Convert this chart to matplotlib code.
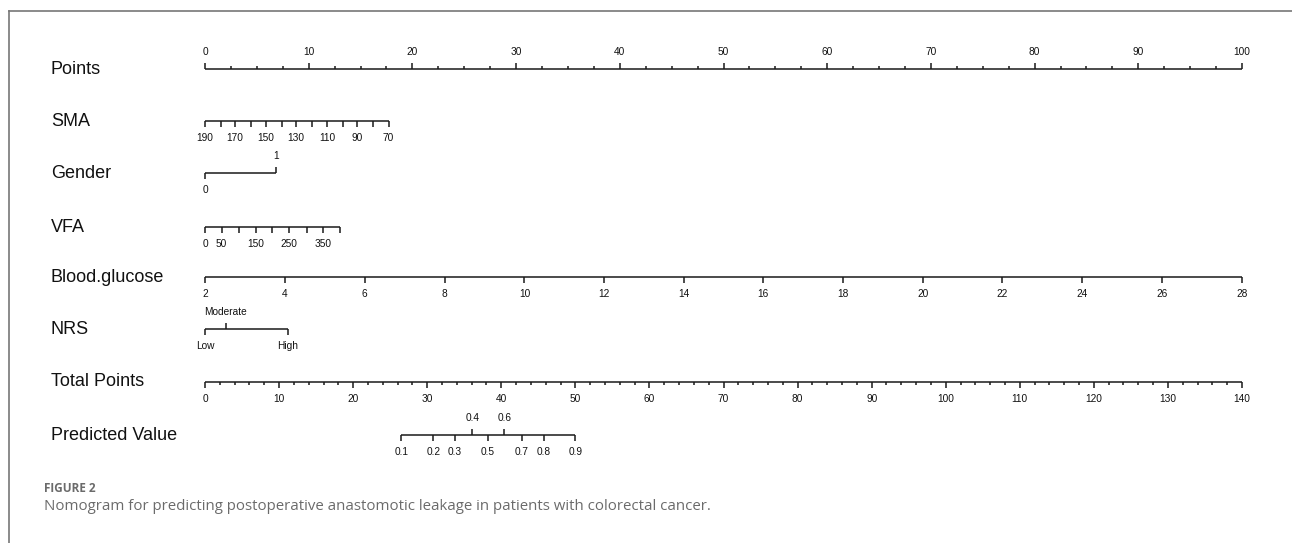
import numpy as np
import matplotlib.pyplot as plt

# nomogram rows, values
# each variable: values and their position on the Points (0-100) scale
sma_values = [190, 180, 170, 160, 150, 140, 130, 120, 110, 100, 90, 80, 70]
sma_points = [0, 1.5, 2.9, 4.4, 5.9, 7.4, 8.8, 10.3, 11.8, 13.3, 14.7, 16.2, 17.7]
sma_labels = ["190", "", "170", "", "150", "", "130", "", "110", "", "90", "", "70"]

gender_values = ["0", "1"]
gender_points = [0, 6.85]

vfa_values = [0, 50, 100, 150, 200, 250, 300, 350, 400]
vfa_points = [0, 1.6, 3.3, 4.9, 6.5, 8.1, 9.8, 11.4, 13.0]
vfa_labels = ["0", "50", "", "150", "", "250", "", "350", ""]

glucose_values = [2, 4, 6, 8, 10, 12, 14, 16, 18, 20, 22, 24, 26, 28]
glucose_points = [0, 7.7, 15.4, 23.1, 30.8, 38.5, 46.2, 53.8, 61.5, 69.2, 76.9, 84.6, 92.3, 100]

nrs_values = ["Low", "Moderate", "High"]
nrs_points = [0, 2.0, 8.0]

# predicted probability and its position on the Total Points (0-140) scale
pred_values = ["0.1", "0.2", "0.3", "0.4", "0.5", "0.6", "0.7", "0.8", "0.9"]
pred_total = [26.5, 30.8, 33.7, 36.1, 38.2, 40.4, 42.8, 45.7, 50.0]

row_names = ["Points", "SMA", "Gender", "VFA", "Blood.glucose", "NRS",
             "Total Points", "Predicted Value"]
row_y = [69, 121, 173, 227, 277, 329, 382, 435]

X0 = 205.0      # pixel x of 0 points
PX = 10.37      # pixels per point
TOTAL_MAX = 140.0

LC = "#1a1a1a"
LW = 1.1
FS_TICK = 7.3
FONT = "Liberation Sans"


def px(xpix):
    return (xpix - X0) / PX


fig = plt.figure(figsize=(12.92, 5.43), dpi=100)
ax = fig.add_axes([0, 0, 1, 1])
ax.set_xlim(px(0), px(1292))
ax.set_ylim(543, 0)
ax.axis("off")


def scale(y, pos, labels, up=None, minor=None, tick=6, minor_tick=3):
    if up is None:
        up = [False] * len(pos)
    ax.plot([min(pos), max(pos)], [y, y], color=LC, lw=LW, solid_capstyle="butt")
    for p, lab, u in zip(pos, labels, up):
        d = -tick if u else tick
        ax.plot([p, p], [y, y + d], color=LC, lw=LW, solid_capstyle="butt")
        if lab != "":
            ty = y - 17 if u else y + 17
            ax.text(p, ty, lab, ha="center", va="center", fontsize=FS_TICK,
                    family=FONT, color="#111111")
    if minor is not None:
        for p in minor:
            ax.plot([p, p], [y, y + minor_tick], color=LC, lw=LW, solid_capstyle="butt")


# row labels
for name, y in zip(row_names, row_y):
    ax.text(px(51), y, name, ha="left", va="center", fontsize=13,
            family=FONT, color="#111111")

# Points axis (ticks and labels above)
pts_major = np.arange(0, 101, 10)
pts_minor = [v for v in np.arange(0, 100.1, 2.5) if v % 10 != 0]
y = row_y[0]
ax.plot([0, 100], [y, y], color=LC, lw=LW, solid_capstyle="butt")
for p in pts_major:
    ax.plot([p, p], [y, y - 6], color=LC, lw=LW, solid_capstyle="butt")
    ax.text(p, y - 17, str(p), ha="center", va="center", fontsize=FS_TICK,
            family=FONT, color="#111111")
for p in pts_minor:
    ax.plot([p, p], [y, y - 3], color=LC, lw=LW, solid_capstyle="butt")

scale(row_y[1], sma_points, sma_labels)
scale(row_y[2], gender_points, gender_values, up=[False, True])
scale(row_y[3], vfa_points, vfa_labels)
scale(row_y[4], glucose_points, [str(v) for v in glucose_values])
scale(row_y[5], nrs_points, nrs_values, up=[False, True, False])

# Total Points axis
tot_major = np.arange(0, 141, 10)
tot_minor = [v for v in np.arange(0, 141, 2) if v % 10 != 0]
scale(row_y[6], [v * 100 / TOTAL_MAX for v in tot_major], [str(v) for v in tot_major],
      minor=[v * 100 / TOTAL_MAX for v in tot_minor])

# Predicted Value
scale(row_y[7], [v * 100 / TOTAL_MAX for v in pred_total], pred_values,
      up=[v in ("0.4", "0.6") for v in pred_values])

# frame lines (top and left)
ax.plot([px(9), px(1292)], [11, 11], color="#777777", lw=1.2)
ax.plot([px(9), px(9)], [11, 543], color="#777777", lw=1.2)

# caption
ax.text(px(44), 489, "FIGURE 2", ha="left", va="center", fontsize=8.5,
        family="Open Sans", weight="bold", color="#6b6b6b")
ax.text(px(44), 507, "Nomogram for predicting postoperative anastomotic leakage in patients with colorectal cancer.",
        ha="left", va="center", fontsize=10.8, family="Open Sans", color="#6b6b6b")

fig.savefig("out.png", dpi=100)
